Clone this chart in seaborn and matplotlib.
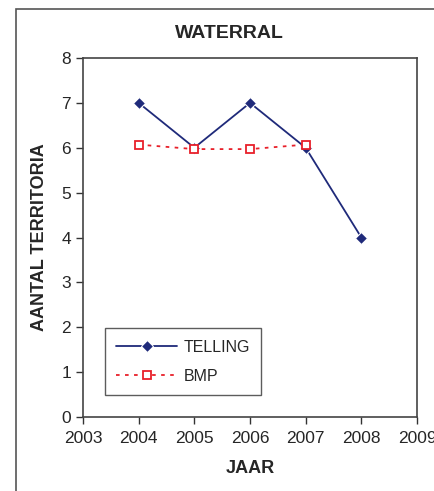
import pandas as pd
import matplotlib
matplotlib.use('Agg')
import matplotlib.pyplot as plt
import seaborn as sns
from matplotlib.patches import Rectangle

sns.set_style('white')
plt.rcParams['font.family'] = ['Liberation Sans', 'DejaVu Sans']

# data
jaren_telling = [2004, 2005, 2006, 2007, 2008]
telling = [7, 6, 7, 6, 4]
jaren_bmp = [2004, 2005, 2006, 2007]
bmp = [6.07, 5.97, 5.97, 6.07]
x_ticks = [2003, 2004, 2005, 2006, 2007, 2008, 2009]
y_ticks = [0, 1, 2, 3, 4, 5, 6, 7, 8]

df_t = pd.DataFrame({'jaar': jaren_telling, 'waarde': telling})
df_b = pd.DataFrame({'jaar': jaren_bmp, 'waarde': bmp})

fig = plt.figure(figsize=(4.35, 4.91), dpi=100)
# outer frame of the scanned figure
fig.patches.append(Rectangle((16 / 435, -0.05), 1.0, 1 - 9 / 491 + 0.05,
                             transform=fig.transFigure, fill=False,
                             edgecolor='#555555', linewidth=1.2))
ax = fig.add_axes([83 / 435, 1 - 417 / 491, (417 - 83) / 435, (417 - 58) / 491])

sns.lineplot(data=df_t, x='jaar', y='waarde', ax=ax, color='#1f2a7a',
             marker='D', markersize=6, linewidth=1.3, label='TELLING')
sns.lineplot(data=df_b, x='jaar', y='waarde', ax=ax, color='#e8202a',
             marker='s', markersize=6, markerfacecolor='white',
             markeredgecolor='#e8202a', markeredgewidth=1.3,
             linestyle=(0, (2, 3)), linewidth=1.3, label='BMP')

ax.set_xlim(2003, 2009)
ax.set_ylim(0, 8)
ax.set_xticks(x_ticks)
ax.set_yticks(y_ticks)
ax.tick_params(axis='both', direction='out', length=5, width=1, labelsize=12.5,
               bottom=True, left=True, color='#333333')
ax.tick_params(axis='x', pad=5)
for side in ax.spines.values():
    side.set_color('#444444')
    side.set_linewidth(1.2)

fig.text(229 / 435, 1 - 33 / 491, 'WATERRAL', fontsize=14, fontweight='bold',
         ha='center', va='center')
ax.set_xlabel('JAAR', fontsize=13, fontweight='bold', labelpad=10)
ax.set_ylabel('AANTAL TERRITORIA', fontsize=13, fontweight='bold', labelpad=10)

leg = ax.legend(loc='lower left', bbox_to_anchor=(0.066, 0.061), borderaxespad=0,
                fontsize=11.5, frameon=True, fancybox=False, edgecolor='#333333',
                handlelength=3.8, handletextpad=0.4, borderpad=0.7,
                labelspacing=0.9)
leg.get_frame().set_linewidth(1.0)

fig.savefig('out.png', dpi=100)
